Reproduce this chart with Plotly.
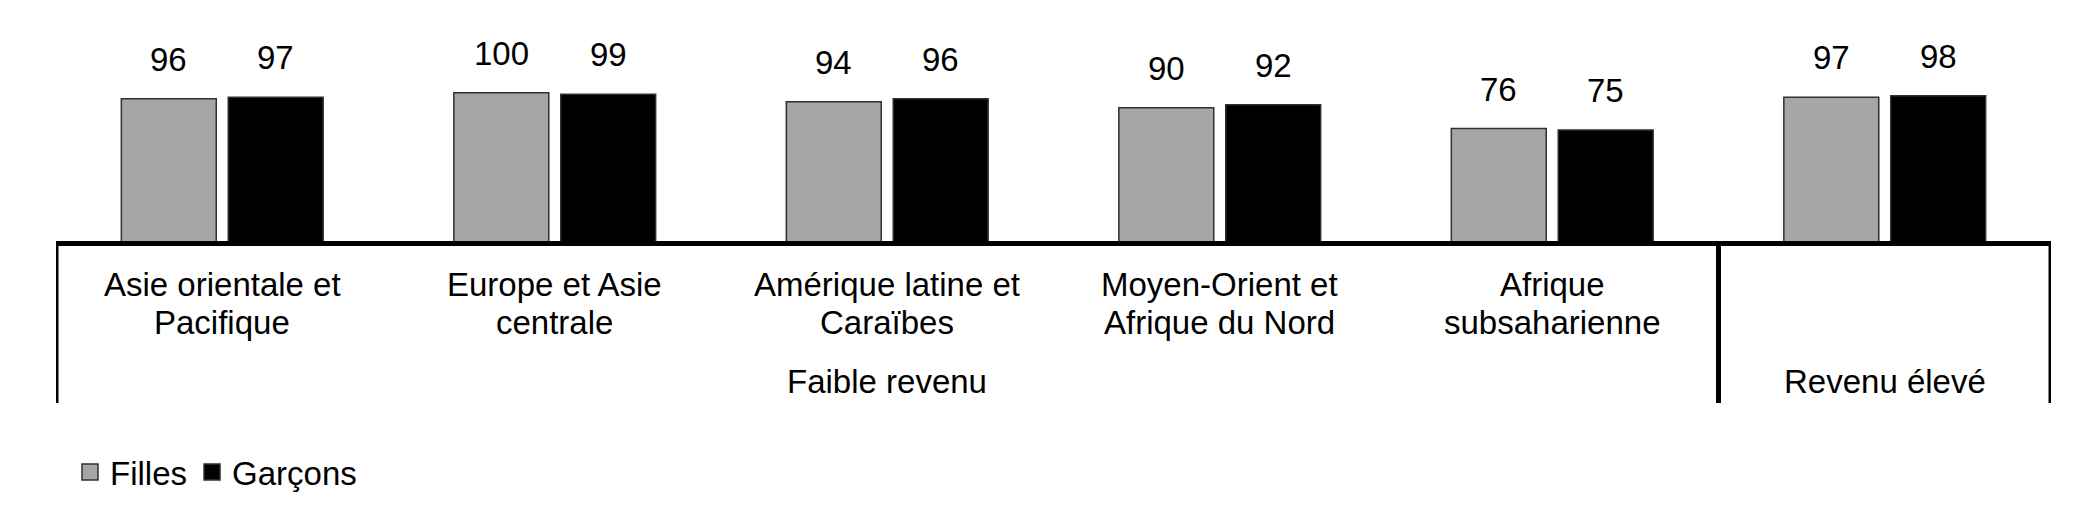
import plotly.graph_objects as go

# ---- data ----
categories = [
    "Asie orientale et Pacifique",
    "Europe et Asie centrale",
    "Amérique latine et Caraïbes",
    "Moyen-Orient et Afrique du Nord",
    "Afrique subsaharienne",
    "Revenu élevé",
]
label_line1 = ["Asie orientale et", "Europe et Asie", "Amérique latine et", "Moyen-Orient et", "Afrique", ""]
label_line2 = ["Pacifique", "centrale", "Caraïbes", "Afrique du Nord", "subsaharienne", ""]
filles = [96, 100, 94, 90, 76, 97]
garcons = [97, 99, 96, 92, 75, 98]
series_names = ["Filles", "Garçons"]
group_labels = ["Faible revenu", "Revenu élevé"]
group_spans = [(0, 4), (5, 5)]  # first / last category index of each group

FONT = "Liberation Sans, Arial, sans-serif"
FS = 33
GRAY = "#A6A6A6"
BLACK = "#000000"

fig = go.Figure()
series = [(series_names[0], filles, GRAY), (series_names[1], garcons, BLACK)]
for name, vals, col in series:
    fig.add_trace(go.Bar(
        x=categories, y=vals, name=name, showlegend=False,
        marker=dict(color=col, line=dict(color="#303030", width=1.5)),
        hoverinfo="x+y",
    ))
# legend proxies (larger square icons)
for name, vals, col in series:
    fig.add_trace(go.Scatter(
        x=[None], y=[None], name=name, mode="markers",
        marker=dict(symbol="square", size=18, color=col, line=dict(color="#303030", width=1.5)),
    ))

# value labels above bars
slot_px = 107
for j, (name, vals, col) in enumerate(series):
    shift = (j - 0.5) * slot_px
    for c, v in zip(categories, vals):
        fig.add_annotation(x=c, y=v, text=str(v), showarrow=False,
                           xshift=shift, yshift=19, yanchor="bottom",
                           font=dict(family=FONT, size=FS, color="black"))

plot_top, plot_bottom = 25, 234
ph = plot_bottom - plot_top
def py(px):
    return (plot_bottom - px) / ph

# category labels (two lines)
for i, (l1, l2) in enumerate(zip(label_line1, label_line2)):
    if l1:
        fig.add_annotation(x=i, y=py(276), xref="x", yref="paper", text=l1, showarrow=False,
                           yanchor="middle", font=dict(family=FONT, size=FS, color="black"))
    if l2:
        fig.add_annotation(x=i, y=py(314), xref="x", yref="paper", text=l2, showarrow=False,
                           yanchor="middle", font=dict(family=FONT, size=FS, color="black"))

# group labels and separators
line_bottom = py(395)
for g, (a, b) in zip(group_labels, group_spans):
    fig.add_annotation(x=(a + b) / 2, y=py(373), xref="x", yref="paper", text=g, showarrow=False,
                       yanchor="middle", font=dict(family=FONT, size=FS, color="black"))
bounds = sorted({a - 0.5 for a, b in group_spans} | {b + 0.5 for a, b in group_spans})
for xb in bounds:
    fig.add_shape(type="line", xref="x", yref="paper", x0=xb, x1=xb, y0=py(235), y1=line_bottom,
                  line=dict(color="black", width=5), layer="above")
# baseline
fig.add_shape(type="line", xref="x", yref="paper", x0=-0.5, x1=len(categories) - 0.5,
              y0=py(235.5), y1=py(235.5), line=dict(color="black", width=5), layer="above")

fig.update_layout(
    width=2091, height=507,
    margin=dict(l=48, r=48, t=plot_top, b=507 - plot_bottom, pad=0),
    paper_bgcolor="white", plot_bgcolor="white",
    barmode="group", bargap=0.357, bargroupgap=0.112,
    font=dict(family=FONT, size=FS, color="black"),
    xaxis=dict(showticklabels=False, showgrid=False, zeroline=False, showline=False,
               ticks="", range=[-0.5, len(categories) - 0.5]),
    yaxis=dict(visible=False, range=[0, 140]),
    showlegend=True,
    legend=dict(orientation="h", xref="container", yref="container",
                x=62 / 2091, y=1 - 464 / 507, xanchor="left", yanchor="middle",
                font=dict(family=FONT, size=FS, color="black"),
                itemwidth=30, tracegroupgap=0, bgcolor="rgba(0,0,0,0)"),
)

fig.write_html("out.html")
